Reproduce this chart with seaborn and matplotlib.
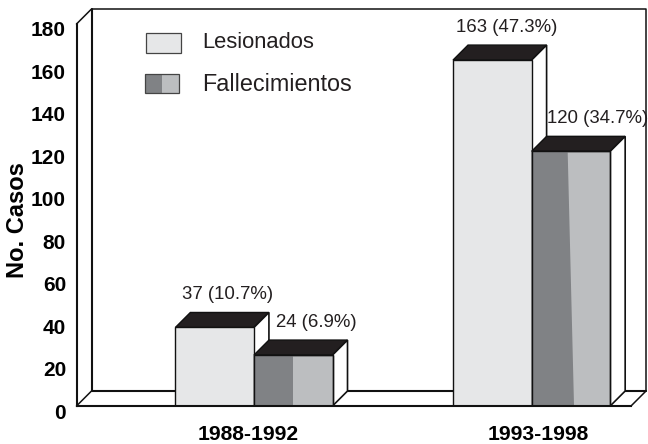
import matplotlib
matplotlib.use("Agg")
import matplotlib.pyplot as plt
import matplotlib.transforms as mtrans
from matplotlib.patches import Polygon, Rectangle
import pandas as pd
import seaborn as sns

# data
periodos = ["1988-1992", "1993-1998"]
series = ["Lesionados", "Fallecimientos"]
lesionados = [37, 163]
fallecimientos = [24, 120]
etiq_lesionados = ["37 (10.7%)", "163 (47.3%)"]
etiq_fallecimientos = ["24 (6.9%)", "120 (34.7%)"]
y_ticks = list(range(0, 181, 20))

df = pd.DataFrame({
    "periodo": periodos * 2,
    "serie": [series[0]] * 2 + [series[1]] * 2,
    "casos": lesionados + fallecimientos,
})

sns.set_style("white")
plt.rcParams["font.family"] = ["Liberation Sans", "DejaVu Sans"]

W, H = 648, 444
NEGRO = "#111111"
TECHO = "#231f20"
CLARO = "#e6e7e8"
GRIS = "#bcbec0"
OSCURO = "#808285"

fig = plt.figure(figsize=(W / 100, H / 100), dpi=100, facecolor="white")
ax = fig.add_axes([76.5 / W, (H - 406) / H, 554.5 / W, 382 / H])

sns.barplot(data=df, x="periodo", y="casos", hue="serie", order=periodos, hue_order=series,
            palette=[CLARO, GRIS], width=0.566, gap=0, saturation=1, legend=False,
            edgecolor=NEGRO, linewidth=1.0, ax=ax)

x0, x1 = -0.639, 1.358
ax.set_xlim(x0, x1)
ax.set_ylim(0, 180)

# profundidad del efecto 3D (15 px)
dx = 15 / (554.5 / (x1 - x0))
dy = 15 / (382 / 180)

# paredes y piso
pared = dict(color=NEGRO, lw=1.1, clip_on=False, zorder=1)
ax.plot([x0, x0 + dx, x1 + dx, x1 + dx], [180, 180 + dy, 180 + dy, dy], **pared)
ax.plot([x0 + dx, x0 + dx, x1 + dx], [180 + dy, dy, dy], color=NEGRO, lw=1.5, clip_on=False, zorder=1)
ax.plot([x0, x0 + dx], [0, dy], **pared)
ax.plot([x1, x1 + dx], [0, dy], **pared)

# caras de cada barra: los patches salen por serie
barras = list(ax.patches)
n = len(periodos)
frac_arriba = [0.5, 0.459]
frac_abajo = [0.5, 0.54]
for s in range(2):
    for b in barras[s * n:(s + 1) * n]:
        b.set_zorder(3 + 2 * s)
        xa, xb, h = b.get_x(), b.get_x() + b.get_width(), b.get_height()
        z = 2.5 + 2 * s
        ax.add_patch(Polygon([(xa, h), (xa + dx, h + dy), (xb + dx, h + dy), (xb, h)],
                             fc=TECHO, ec=NEGRO, lw=1, zorder=z, clip_on=False))
        ax.add_patch(Polygon([(xb, 0), (xb + dx, dy), (xb + dx, h + dy), (xb, h)],
                             fc="white", ec=NEGRO, lw=1.2, zorder=z, clip_on=False))

for i, b in enumerate(barras[n:2 * n]):
    xa, w, h = b.get_x(), b.get_width(), b.get_height()
    ax.add_patch(Polygon([(xa, 0), (xa, h), (xa + w * frac_arriba[i], h), (xa + w * frac_abajo[i], 0)],
                         fc=OSCURO, ec="none", zorder=5.1))
    ax.add_patch(Rectangle((xa, 0), w, h, fill=False, ec=NEGRO, lw=1.0, zorder=5.2))

# etiquetas de valor
desp_x = [12.5, 14.5, 23, 27]
textos = etiq_lesionados + etiq_fallecimientos
for b, t, d in zip(barras, textos, desp_x):
    ax.annotate(t, (b.get_x() + b.get_width() / 2, b.get_height()),
                xytext=(d * 0.72, 33 * 0.72), textcoords="offset points",
                ha="center", va="center", fontsize=13.4, color="#231f20",
                annotation_clip=False, zorder=7)

# ejes
for lado in ["top", "right"]:
    ax.spines[lado].set_visible(False)
for lado in ["left", "bottom"]:
    ax.spines[lado].set_linewidth(1.5)
    ax.spines[lado].set_color(NEGRO)
ax.spines["bottom"].set_zorder(6)
ax.set_yticks(y_ticks)
ax.tick_params(length=0)
ax.tick_params(axis="y", pad=7.5, labelsize=15, labelcolor="black")
ax.tick_params(axis="x", pad=14, labelsize=15.2, labelcolor="black")
for lab in ax.get_yticklabels():
    lab.set_fontweight("bold")
    lab.set_transform(lab.get_transform() + mtrans.ScaledTranslation(0, -0.05, fig.dpi_scale_trans))
for lab, d in zip(ax.get_xticklabels(), [-6, 7]):
    lab.set_fontweight("bold")
    lab.set_transform(lab.get_transform() + mtrans.ScaledTranslation(d / 100, 0, fig.dpi_scale_trans))
ax.set_xlabel("")
ax.set_ylabel("")
fig.text(18 / W, 1 - 220 / H, "No. Casos", rotation=90, ha="center", va="center",
         fontsize=17, fontweight="bold", color="black")

# leyenda a mano con dos tonos
def px(x, y):
    return x / W, 1 - y / H

caja = dict(transform=fig.transFigure, lw=0.9, zorder=8)
ax.add_patch(Rectangle(px(146, 53), 35 / W, 20 / H, fc=CLARO, ec="#444444", clip_on=False, **caja))
ax.add_patch(Rectangle(px(145, 93), 16.5 / W, 19 / H, fc=OSCURO, ec="none", clip_on=False, **caja))
ax.add_patch(Rectangle(px(161.5, 93), 17 / W, 19 / H, fc=GRIS, ec="none", clip_on=False, **caja))
ax.add_patch(Rectangle(px(145, 93), 33.5 / W, 19 / H, fill=False, ec="#444444", clip_on=False, **caja))
fig.text(*px(202, 43), series[0], va="center", fontsize=15.8, color="#231f20")
fig.text(*px(202, 84), series[1], va="center", fontsize=16.8, color="#231f20")

fig.savefig("out.png", dpi=100)
